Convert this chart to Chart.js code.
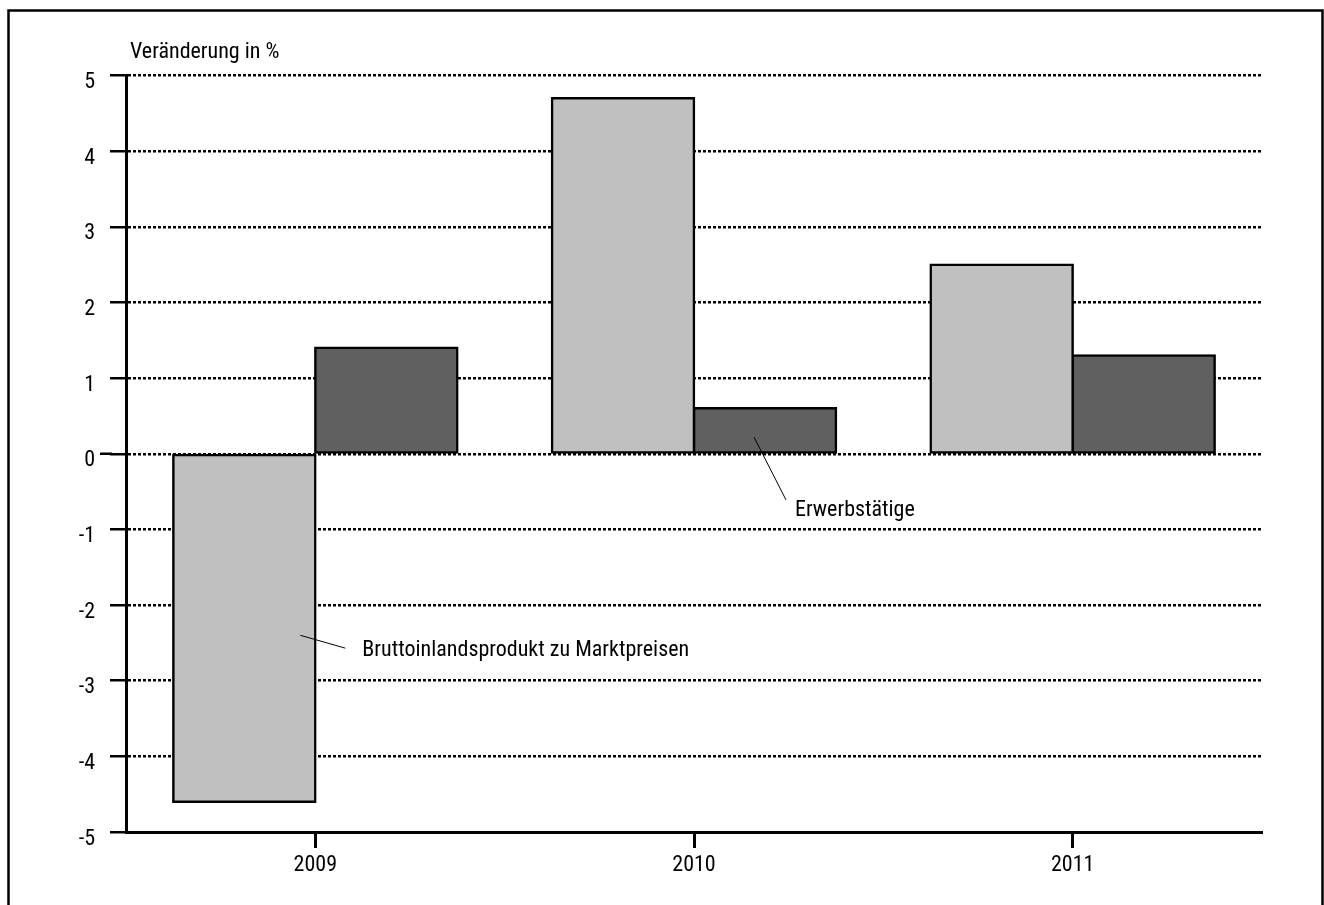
<!DOCTYPE html>
<html>
<head>
<meta charset="utf-8">
<style>
  html, body { margin: 0; padding: 0; background: #fff; }
  canvas { display: block; }
</style>
<script src="https://cdn.jsdelivr.net/npm/chart.js@4/dist/chart.umd.min.js"></script>
</head>
<body>
<canvas id="chart" width="1324" height="905"></canvas>
<script>
// Veränderung gegenüber dem Vorjahr in %
const years = ['2009', '2010', '2011'];
const bip = [-4.6, 4.7, 2.5];
const erwerbstaetige = [1.4, 0.6, 1.3];
const yMin = -5;
const yMax = 5;
const yStep = 1;
const axisTitle = 'Veränderung in %';
const labelBip = 'Bruttoinlandsprodukt zu Marktpreisen';
const labelErw = 'Erwerbstätige';

const FONT = '"Roboto Condensed", "Liberation Sans", Arial, sans-serif';
Chart.defaults.font.family = FONT;
Chart.defaults.font.size = 22;
Chart.defaults.color = '#000';

// Frame, axis title, longer zero tick and the two leader-line labels
const decorations = {
  id: 'decorations',
  afterDraw(chart) {
    const { ctx, chartArea } = chart;
    const x = chart.scales.x;
    const y = chart.scales.y;
    ctx.save();

    // outer frame (open at the bottom)
    ctx.strokeStyle = '#000';
    ctx.lineWidth = 2.5;
    ctx.beginPath();
    ctx.moveTo(8.5, 930);
    ctx.lineTo(8.5, 10.5);
    ctx.lineTo(1322.5, 10.5);
    ctx.lineTo(1322.5, 930);
    ctx.stroke();

    // zero tick reaches a bit further left
    const y0 = y.getPixelForValue(0);
    ctx.lineWidth = 2.5;
    ctx.beginPath();
    ctx.moveTo(chartArea.left - 26, y0);
    ctx.lineTo(chartArea.left - 14, y0);
    ctx.stroke();

    ctx.fillStyle = '#000';
    ctx.font = '22px ' + FONT;
    ctx.textBaseline = 'alphabetic';
    ctx.textAlign = 'left';

    // axis title
    ctx.fillText(axisTitle, chartArea.left + 4, y.getPixelForValue(yMax) - 18);

    // leader lines
    ctx.lineWidth = 1;
    const c0 = x.getPixelForValue(0);
    ctx.beginPath();
    ctx.moveTo(c0 - 15, y.getPixelForValue(-2.4));
    ctx.lineTo(c0 + 30, y.getPixelForValue(-2.57));
    ctx.stroke();
    ctx.fillText(labelBip, c0 + 47, y.getPixelForValue(-2.67));

    const c1 = x.getPixelForValue(1);
    ctx.beginPath();
    ctx.moveTo(c1 + 60, y.getPixelForValue(0.22));
    ctx.lineTo(c1 + 92, y.getPixelForValue(-0.61));
    ctx.stroke();
    ctx.fillText(labelErw, c1 + 101, y.getPixelForValue(-0.82));

    ctx.restore();
  }
};

new Chart(document.getElementById('chart'), {
  type: 'bar',
  data: {
    labels: years,
    datasets: [
      {
        label: labelBip,
        data: bip,
        backgroundColor: '#c0c0c0',
        borderColor: '#000',
        borderWidth: 2.5,
        borderSkipped: false,
        inflateAmount: 1.25
      },
      {
        label: labelErw,
        data: erwerbstaetige,
        backgroundColor: '#606060',
        borderColor: '#000',
        borderWidth: 2.5,
        borderSkipped: false,
        inflateAmount: 1.25
      }
    ]
  },
  options: {
    responsive: false,
    animation: false,
    devicePixelRatio: 1,
    layout: { padding: { left: 0, right: 62, top: 75.5, bottom: 0 } },
    datasets: { bar: { barPercentage: 1, categoryPercentage: 0.75 } },
    plugins: {
      legend: { display: false },
      tooltip: { enabled: false },
      title: { display: false }
    },
    scales: {
      x: {
        offset: true,
        grid: {
          offset: false,
          drawOnChartArea: false,
          drawTicks: true,
          tickLength: 16,
          tickWidth: 3,
          tickColor: '#000'
        },
        border: { display: true, color: '#000', width: 3 },
        ticks: { color: '#000', padding: 4, font: { size: 22 } },
        afterFit(scale) { scale.height = 73; }
      },
      y: {
        min: yMin,
        max: yMax,
        ticks: {
          stepSize: yStep,
          color: '#000',
          padding: 15,
          labelOffset: 7,
          font: { size: 22 }
        },
        grid: {
          color: '#000',
          lineWidth: 2.5,
          drawTicks: true,
          tickLength: 16,
          tickWidth: 2.5,
          tickColor: '#000',
          tickBorderDash: []
        },
        border: { display: true, color: '#000', width: 3, dash: [3, 2] },
        afterFit(scale) { scale.width = 126; }
      }
    }
  },
  plugins: [decorations]
});
</script>
</body>
</html>
